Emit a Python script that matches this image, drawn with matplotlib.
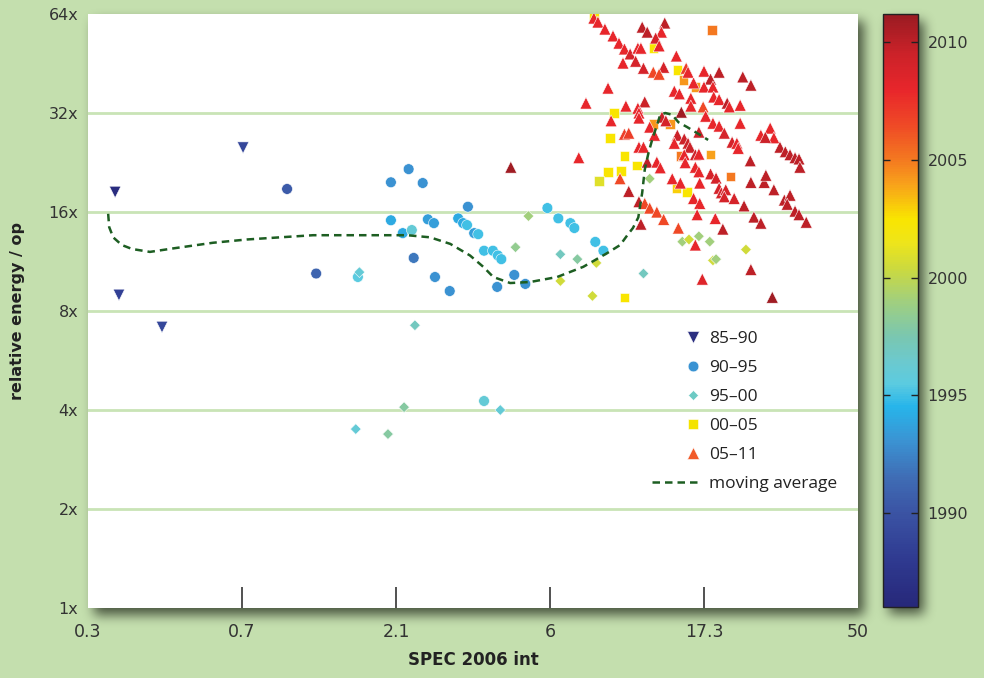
import numpy as np
import matplotlib
matplotlib.use("Agg")
import matplotlib.pyplot as plt
from matplotlib.colors import LinearSegmentedColormap, Normalize
from matplotlib.cm import ScalarMappable
from matplotlib.lines import Line2D
from matplotlib.legend_handler import HandlerBase
from matplotlib.ticker import NullLocator
from matplotlib import font_manager

# ---------------- data ----------------
x_ticks_lbl = ["0.3", "0.7", "2.1", "6", "17.3", "50"]
y_ticks = [1, 2, 4, 8, 16, 32, 64]
y_ticks_lbl = ["1x", "2x", "4x", "8x", "16x", "32x", "64x"]
cbar_ticks = [1990, 1995, 2000, 2005, 2010]

# 85-90 (down triangles)
dn_x = [0.299, 0.307, 0.413, 0.722]
dn_y = [18.4, 8.95, 7.15, 25.1]
dn_yr = [1986.5, 1988.5, 1989.0, 1989.0]

# 90-95 (circles)
ci_x = [0.978, 1.195, 1.593, 2.26, 2.00, 2.49, 3.40, 2.00, 2.58, 2.69,
        2.17, 2.31, 3.18, 3.29, 3.38, 3.55, 3.65, 2.34, 3.80, 4.04,
        4.18, 4.28, 2.71, 3.00, 4.68, 4.16, 5.05, 5.88, 6.34, 6.89,
        7.08, 8.18, 8.65, 3.80]
ci_y = [18.8, 10.4, 10.15, 21.6, 19.7, 19.6, 16.6, 15.1, 15.2, 14.8,
        13.8, 14.1, 15.3, 14.8, 14.6, 13.8, 13.7, 11.6, 12.2, 12.2,
        11.8, 11.5, 10.15, 9.2, 10.3, 9.47, 9.67, 16.45, 15.3, 14.8,
        14.3, 12.98, 12.2, 4.26]
ci_yr = [1990.5, 1991, 1995.5, 1993, 1993, 1993, 1993, 1994, 1993.5, 1993.5,
         1994, 1996, 1994, 1994, 1995, 1993.5, 1995, 1992, 1995, 1995,
         1995, 1995, 1993, 1993, 1993, 1993, 1993, 1995, 1995, 1995,
         1995, 1995, 1995, 1996]

# 95-00 (diamonds)
di_x = [1.61, 2.36, 5.16, 4.72, 6.43, 7.23, 6.43, 8.24, 8.02, 2.19, 4.25,
        1.57, 1.96, 11.9, 11.4, 14.9, 15.6, 16.7, 18.0, 18.4, 18.8, 23.1]
di_y = [10.5, 7.24, 15.55, 12.5, 11.9, 11.5, 9.87, 11.2, 8.89, 4.08, 4.0,
        3.50, 3.38, 20.2, 10.4, 13.0, 13.2, 13.5, 13.0, 11.4, 11.5, 12.3]
di_yr = [1996, 1997, 1999, 1998.5, 1997, 1998, 2000.5, 2000.5, 2000.5, 1998, 1996,
         1996, 1998, 1999, 1997, 1999, 2000.5, 1999, 1999, 2000.5, 1999, 2000.5]

# 00-05 (squares)
sq_x = [8.10, 12.2, 18.3, 14.4, 15.0, 16.3, 9.31, 12.2, 13.7, 9.05, 10.0,
        14.7, 18.1, 10.9, 8.93, 9.76, 8.39, 20.8, 14.3, 15.4, 10.0]
sq_y = [63.6, 50.4, 57.2, 43.2, 40.3, 38.4, 32.0, 29.6, 29.6, 26.9, 23.7,
        23.7, 23.9, 22.2, 21.2, 21.3, 19.85, 20.5, 18.9, 18.4, 8.81]
sq_yr = [2002.5, 2002.5, 2005, 2002.5, 2004.3, 2004.3, 2002.5, 2004.3, 2004.3, 2002.5, 2002.5,
         2005, 2004, 2002.5, 2002.5, 2002.5, 2001, 2005, 2003, 2002.5, 2002.5]

# 05-11 (up triangles)
tr_x = [8.10, 8.33, 8.74, 9.24, 9.63, 10.0, 10.4, 10.97, 11.2, 9.90,
        10.8, 11.4, 11.3, 11.7, 13.2, 12.9, 12.4, 12.7, 14.3, 13.1,
        12.2, 12.7, 15.3, 15.5, 17.3, 19.2, 18.1, 22.6, 23.9, 8.93,
        7.67, 10.1, 11.5, 10.97, 11.05, 11.05, 14.1, 14.6, 15.8, 16.1,
        17.3, 18.4, 18.5, 19.2, 20.3, 20.6, 22.2, 15.8, 17.2, 14.8,
        12.95, 13.3, 11.9, 12.3, 9.12, 17.5, 18.4, 19.2, 19.9, 16.7,
        22.2, 14.4, 14.1, 15.1, 15.5, 15.7, 10.0, 10.3, 21.0, 21.7,
        21.9, 25.6, 27.3, 28.0, 26.4, 29.2, 30.3, 31.3, 32.4, 33.3,
        33.5, 11.05, 11.4, 11.7, 12.5, 12.8, 16.3, 16.7, 15.1, 15.2,
        16.3, 16.7, 18.1, 18.8, 23.8, 13.9, 14.7, 16.8, 19.2, 19.5,
        20.1, 19.9, 21.3, 22.8, 23.9, 26.2, 26.5, 28.0, 30.1, 31.3,
        30.7, 32.4, 33.3, 35.0, 9.70, 10.3, 11.05, 11.5, 11.9, 12.5,
        13.1, 11.2, 14.5, 16.1, 16.8, 16.5, 18.7, 19.7, 24.4, 25.6,
        16.3, 17.1, 23.9, 27.7, 7.30, 4.57]
tr_y = [62.2, 60.5, 57.6, 54.9, 52.2, 50.1, 48.4, 50.4, 50.4, 45.4,
        46.0, 43.8, 58.4, 56.4, 60.1, 56.4, 54.1, 51.2, 47.7, 44.1,
        42.6, 42.0, 43.8, 42.6, 42.9, 42.6, 40.6, 41.2, 38.9, 38.1,
        34.3, 33.6, 34.6, 33.1, 32.0, 30.9, 37.3, 36.6, 35.5, 39.5,
        38.4, 38.4, 35.8, 35.2, 34.3, 33.4, 33.8, 33.6, 33.4, 32.2,
        31.1, 30.3, 29.0, 27.4, 30.3, 31.3, 29.8, 29.2, 27.8, 28.0,
        29.8, 27.4, 25.9, 26.7, 25.9, 25.2, 27.6, 27.8, 26.1, 25.9,
        25.0, 27.4, 28.8, 26.9, 27.0, 25.2, 24.4, 23.9, 23.4, 23.2,
        21.9, 25.2, 25.2, 22.7, 22.7, 21.8, 23.9, 24.0, 23.9, 22.6,
        21.9, 21.2, 20.9, 20.3, 22.9, 20.2, 19.6, 19.6, 18.9, 18.3,
        18.7, 17.8, 17.6, 16.7, 19.7, 19.7, 20.7, 18.7, 17.4, 18.0,
        16.9, 16.1, 15.7, 14.9, 20.2, 18.5, 17.2, 17.0, 16.45, 16.0,
        15.2, 14.7, 14.3, 17.6, 17.0, 15.7, 15.3, 14.2, 15.45, 14.8,
        12.7, 10.0, 10.7, 8.81, 23.4, 21.9]
tr_yr = [2008, 2008, 2008, 2008, 2008, 2008, 2009, 2008, 2008, 2008,
         2009, 2009, 2010, 2010, 2010, 2008, 2009, 2008, 2008, 2009,
         2006.5, 2006.5, 2007, 2008, 2008, 2010, 2010, 2010, 2010, 2008,
         2008, 2008, 2009.5, 2008, 2008, 2008, 2008, 2008, 2008, 2008,
         2008, 2008, 2008, 2008, 2010, 2008, 2008, 2008, 2006.5, 2011,
         2009.5, 2009, 2008, 2008, 2008, 2008, 2008, 2008, 2009, 2009.5,
         2008, 2009.5, 2008, 2009.5, 2009.5, 2009.5, 2007, 2007, 2009, 2008,
         2008, 2008, 2008, 2008, 2009.5, 2010, 2010, 2010, 2010, 2010,
         2010, 2008, 2008, 2010, 2008, 2008, 2009.5, 2008, 2008, 2008,
         2008, 2008, 2009, 2009, 2010, 2008, 2008, 2008, 2009, 2009,
         2009, 2009, 2009, 2010, 2010, 2010, 2010, 2010, 2010, 2010,
         2010, 2010, 2010, 2010, 2006.5, 2010, 2010, 2006.5, 2006.5, 2006.5,
         2006.5, 2010, 2006.5, 2008, 2008, 2008, 2008, 2010, 2010, 2010,
         2008, 2008.5, 2010, 2011, 2008, 2011]

# moving average
ma_x = [0.285, 0.287, 0.295, 0.313, 0.336, 0.380, 0.446, 0.587, 0.742, 0.932,
        1.17, 1.857, 2.24, 2.62, 3.01, 3.45, 3.78, 4.05, 4.55, 5.22,
        6.29, 7.53, 8.88, 9.71, 10.2, 10.6, 11.0, 11.3, 11.5, 11.8,
        12.1, 12.8, 13.25, 13.9, 14.5, 15.4, 16.5, 17.8]
ma_y = [15.8, 14.4, 13.4, 12.7, 12.35, 12.1, 12.4, 12.9, 13.2, 13.4,
        13.6, 13.6, 13.6, 13.4, 12.8, 11.8, 10.9, 10.15, 9.73, 9.80,
        10.15, 10.9, 12.0, 12.7, 13.6, 14.3, 15.4, 18.3, 21.5, 24.2,
        26.5, 31.6, 32.0, 31.6, 30.0, 29.0, 27.8, 26.5]

legend_labels = ["85\u201390", "90\u201395", "95\u201300", "00\u201305", "05\u201311", "moving average"]

# ---------------- style ----------------
W, H = 984, 678
BG = "#c4dfae"
GRID = "#c9e4b6"
MA_COLOR = "#1d5e22"

names = {f.name for f in font_manager.fontManager.ttflist}
NARROW = "Liberation Sans Narrow" if "Liberation Sans Narrow" in names else "DejaVu Sans"
plt.rcParams["font.family"] = ["DejaVu Sans"]

cmap = LinearSegmentedColormap.from_list("yrs", [
    (0.000, "#27287a"), (0.079, "#2f3a90"), (0.159, "#3b54a4"), (0.218, "#3f6db5"),
    (0.278, "#3b92d2"), (0.337, "#27b5ea"), (0.377, "#5ccbe0"), (0.417, "#6dc9cc"),
    (0.456, "#7ac7b0"), (0.516, "#a1cf7e"), (0.567, "#c9d942"), (0.615, "#eee51a"),
    (0.655, "#f9e500"), (0.714, "#f8a11b"), (0.754, "#f47a20"), (0.813, "#ef4a26"),
    (0.873, "#e8262b"), (0.933, "#cc2229"), (1.000, "#9a1b22")])
norm = Normalize(vmin=1986.0, vmax=2011.2)

fig = plt.figure(figsize=(W / 100, H / 100), dpi=100)
fig.patch.set_facecolor(BG)

# ---- drop shadows ----
bg = fig.add_axes([0, 0, 1, 1], zorder=0)
bg.set_xlim(0, W)
bg.set_ylim(H, 0)
bg.axis("off")
mask = np.zeros((H, W))
ox, oy = 6, 7
mask[14 + oy:608 + oy, 88 + ox:858 + ox] = 1.0
mask[14 + oy:607 + oy, 883 + ox:918 + ox] = 1.0


def box_blur(a, r):
    k = np.ones(2 * r + 1) / (2 * r + 1)
    for _ in range(3):
        a = np.apply_along_axis(lambda m: np.convolve(m, k, mode="same"), 0, a)
        a = np.apply_along_axis(lambda m: np.convolve(m, k, mode="same"), 1, a)
    return a


sh = box_blur(mask, 5)
rgba = np.zeros((H, W, 4))
rgba[..., 0] = 0.20
rgba[..., 1] = 0.24
rgba[..., 2] = 0.17
rgba[..., 3] = np.clip(sh, 0, 1) * 0.85
bg.imshow(rgba, extent=(0, W, H, 0), interpolation="bilinear", aspect="auto")

# ---- main axes ----
ax = fig.add_axes([88 / W, 1 - 608 / H, 770 / W, 594 / H], zorder=2)
ax.set_facecolor("white")
ax.set_xscale("log")
ax.set_yscale("log", base=2)
ratio = 2.89
x_tick_pos = [50 / ratio ** k for k in range(5, -1, -1)]
ax.set_xlim(x_tick_pos[0], 50)
ax.set_ylim(1, 64)
for s in ax.spines.values():
    s.set_visible(False)

for g in y_ticks[1:-1]:
    ax.axhline(g, color=GRID, lw=2.0, zorder=1)

ax.set_xticks(x_tick_pos)
ax.set_xticklabels(x_ticks_lbl, fontfamily=NARROW, fontsize=12.5, color="#333333")
ax.xaxis.set_minor_locator(NullLocator())
ax.tick_params(axis="x", direction="in", length=15, width=1.1, color="#222222", pad=11)
for i in (0, len(x_tick_pos) - 1):
    ax.xaxis.get_major_ticks()[i].tick1line.set_visible(False)

ax.set_yticks(y_ticks)
ax.set_yticklabels(y_ticks_lbl, fontsize=11.5, color="#333333")
ax.yaxis.set_minor_locator(NullLocator())
ax.tick_params(axis="y", length=0, pad=7)

kw = dict(cmap=cmap, norm=norm, edgecolors="white", linewidths=0.4, zorder=3)
ax.scatter(dn_x, dn_y, c=dn_yr, marker="v", s=70, **kw)
ax.scatter(ci_x, ci_y, c=ci_yr, marker="o", s=60, **kw)
ax.scatter(di_x, di_y, c=di_yr, marker="D", s=30, **kw)
ax.scatter(sq_x, sq_y, c=sq_yr, marker="s", s=46, **kw)
ax.scatter(tr_x, tr_y, c=tr_yr, marker="^", s=74, **kw)
ax.plot(ma_x, ma_y, color=MA_COLOR, lw=1.8, dashes=(3, 2), zorder=4)


class RightMarker(HandlerBase):
    def create_artists(self, legend, orig_handle, xdescent, ydescent,
                       width, height, fontsize, trans):
        xm = -xdescent + width - 0.35 * fontsize
        ym = (height - ydescent) / 2
        mline = Line2D([xm], [ym])
        self.update_prop(mline, orig_handle, legend)
        mline.set_transform(trans)
        return [mline]


mk = dict(ls="none", markeredgecolor="white", markeredgewidth=0.4)
handles = [
    Line2D([], [], marker="v", color="#2b2f80", markersize=8.3, **mk),
    Line2D([], [], marker="o", color="#3a93d3", markersize=7.7, **mk),
    Line2D([], [], marker="D", color="#6dcac4", markersize=5.4, **mk),
    Line2D([], [], marker="s", color="#f4e300", markersize=6.8, **mk),
    Line2D([], [], marker="^", color="#f15a29", markersize=8.3, **mk),
    Line2D([], [], color=MA_COLOR, lw=1.8, dashes=(3, 2)),
]
leg = ax.legend(handles, legend_labels, loc="upper left",
                bbox_to_anchor=(652 / W, 1 - 331 / H), bbox_transform=fig.transFigure,
                frameon=False, handlelength=2.7, handletextpad=0.6,
                labelspacing=0.74, borderpad=0, borderaxespad=0,
                prop={"family": ["Open Sans", "DejaVu Sans"], "size": 12.5},
                handler_map={h: RightMarker() for h in handles[:5]})
for t in leg.get_texts():
    t.set_color("#222222")
leg.set_zorder(5)

fig.text(473 / W, 1 - 660 / H, "SPEC 2006 int", ha="center", va="center",
         fontsize=12, fontweight="bold", fontfamily=NARROW, color="#222222")
fig.text(18 / W, 1 - 311 / H, "relative energy / op", ha="center", va="center",
         rotation=90, fontsize=11.5, fontweight="bold", fontfamily=NARROW, color="#222222")

# ---- colorbar ----
cax = fig.add_axes([883 / W, 1 - 607 / H, 35 / W, 593 / H], zorder=2)
sm = ScalarMappable(norm=norm, cmap=cmap)
cb = fig.colorbar(sm, cax=cax)
cb.set_ticks(cbar_ticks)
cb.outline.set_linewidth(1.0)
cb.outline.set_edgecolor("#222222")
cax.tick_params(direction="in", length=5, width=1, left=True, right=True,
                labelleft=False, labelright=True, labelsize=11.5,
                labelcolor="#333333", color="#222222", pad=7)

fig.savefig("out.png", dpi=100, facecolor=BG)
